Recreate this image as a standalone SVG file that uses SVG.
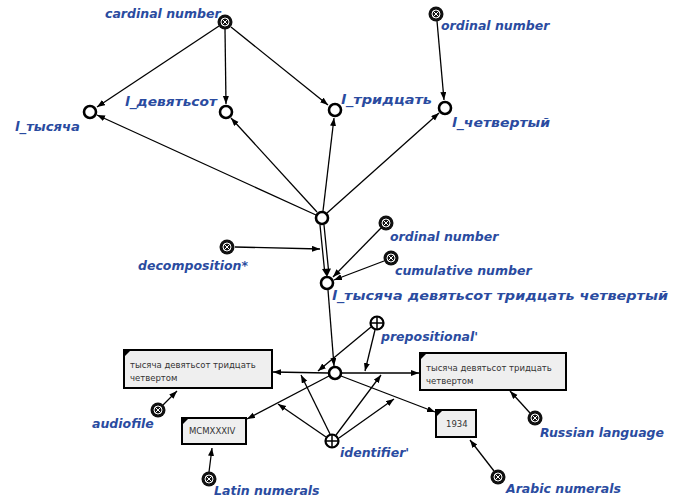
<svg xmlns="http://www.w3.org/2000/svg" width="680" height="499" viewBox="0 0 680 499">
  <defs>
    <marker id="arr" markerWidth="9" markerHeight="7" refX="8" refY="3" orient="auto" markerUnits="userSpaceOnUse">
      <path d="M0,0 L8,3 L0,6 z" fill="#000"/>
    </marker>
    <!-- class node: dark disc with crossed inner ring -->
    <g id="cls">
      <circle r="7.5" fill="#111"/>
      <circle r="4" fill="none" stroke="#fff" stroke-width="1"/>
      <path d="M-2.8,-2.8 L2.8,2.8 M2.8,-2.8 L-2.8,2.8" stroke="#fff" stroke-width="1"/>
    </g>
    <!-- relation node: ring with plus -->
    <g id="rel">
      <circle r="6.5" fill="#fff" stroke="#000" stroke-width="2.2"/>
      <path d="M-6,0 L6,0 M0,-6 L0,6" stroke="#000" stroke-width="1.5"/>
    </g>
  </defs>
  <style>
    .lbl { font-family: "DejaVu Sans", sans-serif; font-weight: bold; font-style: italic; font-size: 12.5px; fill: #2a4ba0; }
    .cyr { font-size: 13px; }
    .txt { font-family: "DejaVu Sans", sans-serif; font-size: 8.5px; fill: #333; }
    .e { stroke: #000; stroke-width: 1.3; fill: none; marker-end: url(#arr); }
    .nd { fill: #fff; stroke: #000; stroke-width: 2.6; }
    .box { fill: #efefef; stroke: #000; stroke-width: 2; }
  </style>
  <rect width="680" height="499" fill="#fff"/>

  <!-- connectors -->
  <g id="edges">
    <path class="e" d="M219,26 L97,107"/>
    <path class="e" d="M225,29 L226,104"/>
    <path class="e" d="M231,27 L328,105"/>
    <path class="e" d="M437,21 L444,100"/>
    <path class="e" d="M316,215 L97,115"/>
    <path class="e" d="M317,212 L231,118"/>
    <path class="e" d="M323,211 L334,118"/>
    <path class="e" d="M327,213 L439,113"/>
    <!-- double-line decomposition edge -->
    <path d="M320,225 L324.5,270 M324,225 L328.5,270" stroke="#000" stroke-width="1.3" fill="none"/>
    <path d="M322,269 L331,268.5 L327,277 z" fill="#000"/>
    <path class="e" d="M235,247 L320,249"/>
    <path class="e" d="M381,228 L333,277"/>
    <path class="e" d="M384,261 L334,280"/>
    <path class="e" d="M328,290 L334,366"/>
    <path class="e" d="M328,373 L273,372"/>
    <path class="e" d="M342,373 L419,373"/>
    <path class="e" d="M329,376 L247,419"/>
    <path class="e" d="M341,376 L435,412"/>
    <path class="e" d="M371,327 L318,371"/>
    <path class="e" d="M375,330 L365,371"/>
    <path class="e" d="M330,434 L301,375"/>
    <path class="e" d="M326,437 L278,404"/>
    <path class="e" d="M336,435 L381,375"/>
    <path class="e" d="M339,438 L394,399"/>
    <path class="e" d="M163,405 L177,391"/>
    <path class="e" d="M209,472 L212,448"/>
    <path class="e" d="M530,413 L510,391"/>
    <path class="e" d="M494,471 L470,440"/>
  </g>

  <!-- nodes -->
  <g id="cardinal-number"><use href="#cls" x="225" y="22"/><text class="lbl" x="105" y="18">cardinal number</text></g>
  <g id="ordinal-number-top"><use href="#cls" x="436" y="14"/><text class="lbl" x="441" y="30">ordinal number</text></g>
  <g id="l-tysyacha"><circle class="nd" cx="90" cy="112" r="6"/><text class="lbl cyr" x="15" y="131" textLength="65" lengthAdjust="spacingAndGlyphs">l_тысяча</text></g>
  <g id="l-devyatsot"><circle class="nd" cx="226" cy="112" r="6"/><text class="lbl cyr" x="125" y="106" textLength="92" lengthAdjust="spacingAndGlyphs">l_девятьсот</text></g>
  <g id="l-tridtsat"><circle class="nd" cx="335" cy="110" r="6"/><text class="lbl cyr" x="341" y="104" textLength="91" lengthAdjust="spacingAndGlyphs">l_тридцать</text></g>
  <g id="l-chetvertyi"><circle class="nd" cx="445" cy="108" r="6"/><text class="lbl cyr" x="452" y="127" textLength="98" lengthAdjust="spacingAndGlyphs">l_четвертый</text></g>
  <g id="decomp-node"><circle class="nd" cx="322" cy="218" r="6"/></g>
  <g id="ordinal-number"><use href="#cls" x="386" y="223"/><text class="lbl" x="390" y="241">ordinal number</text></g>
  <g id="cumulative-number"><use href="#cls" x="391" y="258"/><text class="lbl" x="395" y="275">cumulative number</text></g>
  <g id="decomposition"><use href="#cls" x="227" y="247"/><text class="lbl" x="138" y="270">decomposition*</text></g>
  <g id="l-full"><circle class="nd" cx="327" cy="283" r="6"/><text class="lbl cyr" x="332" y="300" textLength="336" lengthAdjust="spacingAndGlyphs">l_тысяча девятьсот тридцать четвертый</text></g>
  <g id="value-node"><circle class="nd" cx="335" cy="373" r="6"/></g>
  <g id="prepositional"><use href="#rel" x="377" y="323"/><text class="lbl" x="381" y="341">prepositional'</text></g>
  <g id="identifier"><use href="#rel" x="332" y="441"/><text class="lbl" x="340" y="457">identifier'</text></g>

  <g id="box-audio">
    <rect class="box" x="124" y="350" width="148" height="38"/>
    <path d="M125,351 L130,351 L125,356 z" fill="#000"/>
    <text class="txt" x="130" y="368">тысяча девятьсот тридцать</text>
    <text class="txt" x="130" y="381">четвертом</text>
  </g>
  <g id="box-russian">
    <rect class="box" x="420" y="353" width="146" height="37"/>
    <path d="M421,354 L426,354 L421,359 z" fill="#000"/>
    <text class="txt" x="426" y="371">тысяча девятьсот тридцать</text>
    <text class="txt" x="426" y="384">четвертом</text>
  </g>
  <g id="box-latin">
    <rect class="box" x="182" y="418" width="64" height="26"/>
    <path d="M183,419 L188,419 L183,424 z" fill="#000"/>
    <text class="txt" x="189" y="434">MCMXXXIV</text>
  </g>
  <g id="box-arabic">
    <rect class="box" x="436" y="410" width="40" height="27"/>
    <path d="M437,411 L442,411 L437,416 z" fill="#000"/>
    <text class="txt" x="446" y="427">1934</text>
  </g>

  <g id="audiofile"><use href="#cls" x="158" y="410"/><text class="lbl" x="92" y="428">audiofile</text></g>
  <g id="latin-numerals"><use href="#cls" x="209" y="479"/><text class="lbl" x="214" y="495">Latin numerals</text></g>
  <g id="russian-language"><use href="#cls" x="535" y="418"/><text class="lbl" x="540" y="437">Russian language</text></g>
  <g id="arabic-numerals"><use href="#cls" x="498" y="477"/><text class="lbl" x="506" y="493">Arabic numerals</text></g>
</svg>
